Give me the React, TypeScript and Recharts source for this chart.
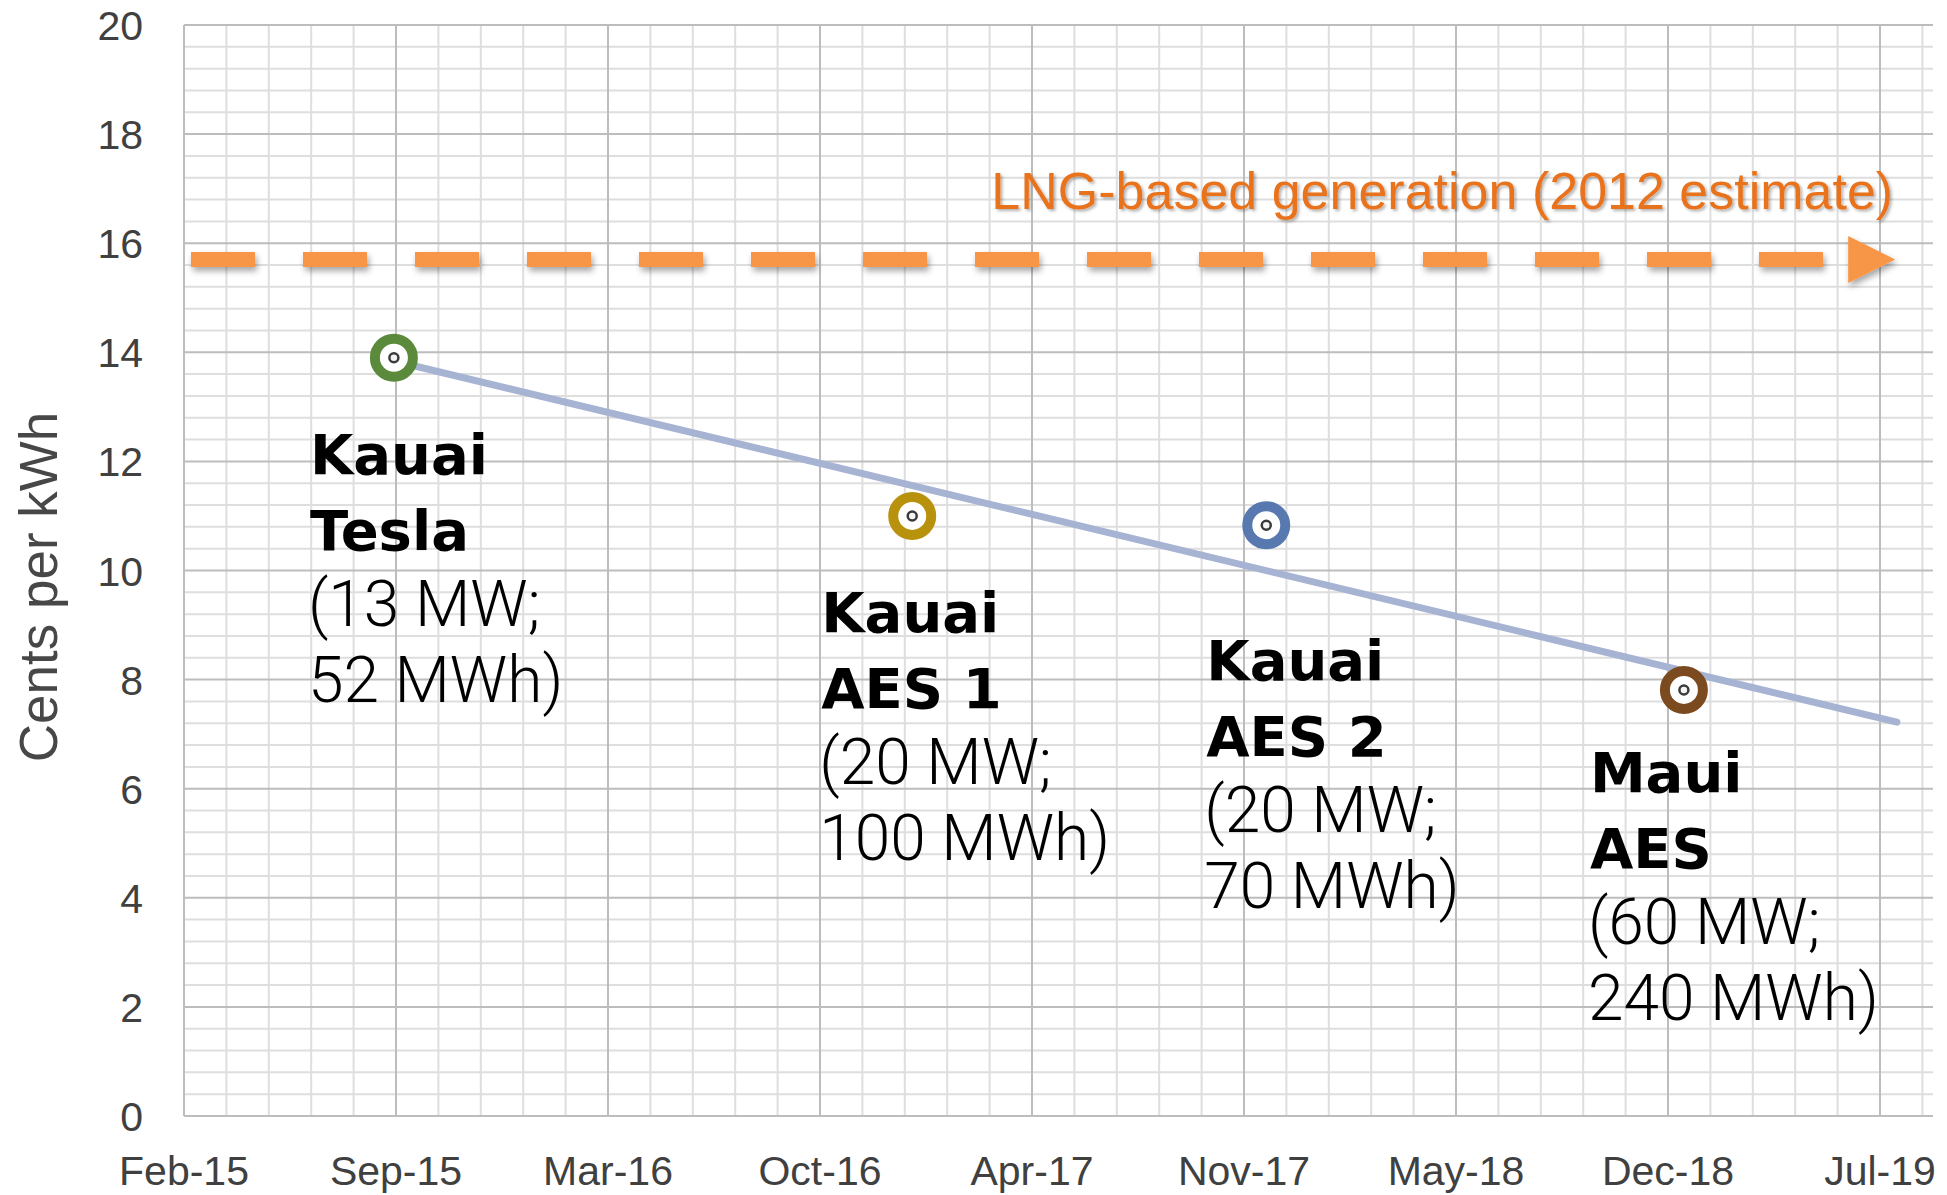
import React from 'react';
import {
  ComposedChart,
  Line,
  Scatter,
  XAxis,
  YAxis,
  ReferenceLine,
} from 'recharts';

// ============================================================================
// Data
// ============================================================================

// x is days from the axis origin (Feb-15); one major step is 200 days
const X_TICKS = [0, 200, 400, 600, 800, 1000, 1200, 1400, 1600];
const X_TICK_LABELS = [
  'Feb-15',
  'Sep-15',
  'Mar-16',
  'Oct-16',
  'Apr-17',
  'Nov-17',
  'May-18',
  'Dec-18',
  'Jul-19',
];
const Y_TICKS = [0, 2, 4, 6, 8, 10, 12, 14, 16, 18, 20];

const PROJECT_X = [198, 687, 1021, 1415];
const PROJECT_COST = [13.9, 11.0, 10.83, 7.81];
const PROJECT_NAME_LINES = [
  ['Kauai', 'Tesla'],
  ['Kauai', 'AES 1'],
  ['Kauai', 'AES 2'],
  ['Maui', 'AES'],
];
const PROJECT_SIZE_LINES = [
  ['(13 MW;', '52 MWh)'],
  ['(20 MW;', '100 MWh)'],
  ['(20 MW;', '70 MWh)'],
  ['(60 MW;', '240 MWh)'],
];

const TREND_X = [198, 1616];
const TREND_Y = [13.84, 7.22];

const LNG_X = [6.6, 1570];
const LNG_Y = [15.7, 15.7];
const LNG_LABEL = 'LNG-based generation (2012 estimate)';

// ============================================================================
// Styles / layout
// ============================================================================

const WIDTH = 1947;
const HEIGHT = 1195;
const X_MAX = 1650;

const PROJECT_COLORS = ['#5B8A3C', '#B8920C', '#5878B0', '#7B4A1E'];
const LABEL_OFFSETS = [
  { dx: -84, dy: 116 },
  { dx: -91, dy: 116 },
  { dx: -60, dy: 155 },
  { dx: -94, dy: 102 },
];
const LINE_GAP = 76;

const TICK_FONT = '"Liberation Sans", Arial, sans-serif';
const TICK_COLOR = '#404040';
const MAJOR_GRID = '#BDBDBD';
const MINOR_GRID = '#DEDEDE';

function range(start: number, stop: number, step: number) {
  const out: number[] = [];
  for (let v = start; v <= stop + 1e-9; v += step) out.push(Math.round(v * 100) / 100);
  return out;
}

const MINOR_X = range(40, 1640, 40).filter((v) => v % 200 !== 0);
const MINOR_Y = range(0.4, 19.6, 0.4).filter((v) => Math.abs(v / 2 - Math.round(v / 2)) > 0.01);
const MAJOR_X = X_TICKS.slice(1);
const MAJOR_Y = Y_TICKS.slice(1);

const projects = PROJECT_X.map((x, i) => ({ x, y: PROJECT_COST[i], i }));
const trendData = TREND_X.map((x, i) => ({ x, y: TREND_Y[i] }));
const lngData = LNG_X.map((x, i) => ({ x, y: LNG_Y[i] }));

// ============================================================================
// Custom renderers
// ============================================================================

function XTick({ x, y, payload }: any) {
  const idx = X_TICKS.indexOf(payload.value);
  return (
    <text
      x={x}
      y={y + 69}
      textAnchor="middle"
      fontFamily={TICK_FONT}
      fontSize={41}
      fill={TICK_COLOR}
    >
      {X_TICK_LABELS[idx]}
    </text>
  );
}

function YTick({ x, y, payload }: any) {
  return (
    <text
      x={x - 41}
      y={y + 15}
      textAnchor="end"
      fontFamily={TICK_FONT}
      fontSize={41}
      fill={TICK_COLOR}
    >
      {payload.value}
    </text>
  );
}

function YLabel({ viewBox }: any) {
  const x = (viewBox?.x ?? 0) + 57;
  const y = 587;
  return (
    <text
      x={x}
      y={y}
      transform={`rotate(-90 ${x} ${y})`}
      textAnchor="middle"
      fontFamily={TICK_FONT}
      fontSize={53}
      fill="#474747"
    >
      Cents per kWh
    </text>
  );
}

function ProjectMarker(props: any) {
  const { cx, cy, payload } = props;
  const i = payload.i;
  const color = PROJECT_COLORS[i];
  const { dx, dy } = LABEL_OFFSETS[i];
  const left = cx + dx;
  const names = PROJECT_NAME_LINES[i];
  const sizes = PROJECT_SIZE_LINES[i];
  return (
    <g>
      <circle cx={cx} cy={cy} r={19} fill="#fff" stroke={color} strokeWidth={10} />
      <circle cx={cx} cy={cy} r={4.5} fill="#f4f4f4" stroke="#3a3a3a" strokeWidth={2.5} />
      {names.map((t, k) => (
        <text
          key={`n${k}`}
          x={left}
          y={cy + dy + k * LINE_GAP}
          fontFamily='"DejaVu Sans", sans-serif'
          fontWeight={700}
          fontSize={56}
          fill="#000"
        >
          {t}
        </text>
      ))}
      {sizes.map((t, k) => (
        <text
          key={`s${k}`}
          x={left - 2}
          y={cy + dy + (k + 2) * LINE_GAP}
          fontFamily='Roboto, "Liberation Sans", sans-serif'
          fontWeight={300}
          fontSize={64}
          fill="#000"
        >
          {t}
        </text>
      ))}
    </g>
  );
}

function LngDot(props: any) {
  const { cx, cy, index } = props;
  if (index !== LNG_X.length - 1) return <g key={`lng-${index}`} />;
  return (
    <g key={`lng-${index}`}>
      <polygon
        points={`${cx},${cy - 23.5} ${cx + 47},${cy} ${cx},${cy + 23.5}`}
        fill="#F79646"
        filter="url(#dropShadow)"
      />
      <text
        x={cx + 45}
        y={cy - 50.5}
        textAnchor="end"
        fontFamily={TICK_FONT}
        fontSize={52}
        fill="#E8731C"
        filter="url(#textShadow)"
      >
        {LNG_LABEL}
      </text>
    </g>
  );
}

// ============================================================================
// Main Component
// ============================================================================

export default function App() {
  return (
    <div
      style={{
        position: 'absolute',
        left: 0,
        top: 0,
        width: WIDTH,
        height: HEIGHT,
        background: '#fff',
      }}
    >
      <ComposedChart
        width={WIDTH}
        height={HEIGHT}
        margin={{ top: 25, right: 14, left: 0, bottom: 0 }}
      >
        <defs>
          <filter
            id="dropShadow"
            filterUnits="userSpaceOnUse"
            x={0}
            y={0}
            width={WIDTH}
            height={HEIGHT}
          >
            <feDropShadow dx="2" dy="4" stdDeviation="3" floodColor="#000" floodOpacity="0.35" />
          </filter>
          <filter
            id="textShadow"
            filterUnits="userSpaceOnUse"
            x={0}
            y={0}
            width={WIDTH}
            height={HEIGHT}
          >
            <feDropShadow dx="2" dy="2" stdDeviation="1.5" floodColor="#000" floodOpacity="0.3" />
          </filter>
        </defs>
        <XAxis
          dataKey="x"
          type="number"
          domain={[0, X_MAX]}
          ticks={X_TICKS}
          allowDataOverflow
          interval={0}
          tickLine={false}
          tickSize={0}
          tickMargin={0}
          tick={<XTick />}
          axisLine={{ stroke: MAJOR_GRID, strokeWidth: 2 }}
          height={79}
        />
        <YAxis
          dataKey="y"
          type="number"
          domain={[0, 20]}
          ticks={Y_TICKS}
          allowDataOverflow
          interval={0}
          tickLine={false}
          tickSize={0}
          tickMargin={0}
          tick={<YTick />}
          axisLine={{ stroke: MAJOR_GRID, strokeWidth: 2 }}
          width={184}
          label={<YLabel />}
        />

        {MINOR_X.map((v) => (
          <ReferenceLine key={`mx${v}`} x={v} stroke={MINOR_GRID} strokeWidth={2} />
        ))}
        {MINOR_Y.map((v) => (
          <ReferenceLine key={`my${v}`} y={v} stroke={MINOR_GRID} strokeWidth={2} />
        ))}
        {MAJOR_X.map((v) => (
          <ReferenceLine key={`Mx${v}`} x={v} stroke={MAJOR_GRID} strokeWidth={2} />
        ))}
        {MAJOR_Y.map((v) => (
          <ReferenceLine key={`My${v}`} y={v} stroke={MAJOR_GRID} strokeWidth={2} />
        ))}

        <Line
          data={lngData}
          dataKey="y"
          type="linear"
          stroke="#F79646"
          strokeWidth={15}
          strokeDasharray="64 48"
          strokeLinecap="butt"
          filter="url(#dropShadow)"
          dot={LngDot}
          activeDot={false}
          isAnimationActive={false}
        />
        <Line
          data={trendData}
          dataKey="y"
          type="linear"
          stroke="#A6B3D3"
          strokeWidth={7}
          strokeLinecap="round"
          dot={false}
          activeDot={false}
          isAnimationActive={false}
        />
        <Scatter
          data={projects}
          dataKey="y"
          shape={ProjectMarker}
          isAnimationActive={false}
        />
      </ComposedChart>
    </div>
  );
}
